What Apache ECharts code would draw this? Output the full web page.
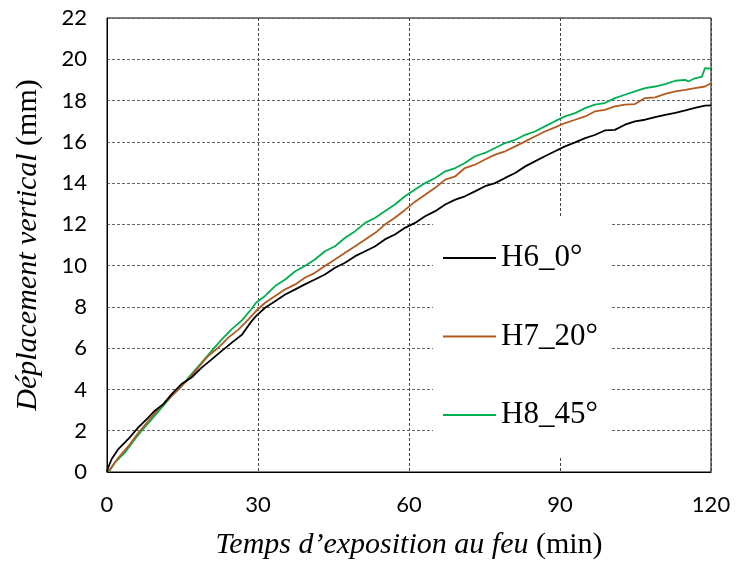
<!DOCTYPE html>
<html>
<head>
<meta charset="utf-8">
<script src="https://cdn.jsdelivr.net/npm/echarts@6/dist/echarts.min.js"></script>
<style>html,body{margin:0;padding:0;background:#fff}#c{width:736px;height:565px}</style>
</head>
<body>
<div id="c"></div>
<script>
// Time (min) and vertical displacement (mm)
const seriesNames = ['H6_0°', 'H7_20°', 'H8_45°'];
const xTicks = [0, 30, 60, 90, 120];
const yTicks = [0, 2, 4, 6, 8, 10, 12, 14, 16, 18, 20, 22];

const h6 = [
  [0,0],[0.13,0.15],[0.93,0.63],[2.25,1.11],[4.24,1.6],[6.23,2.16],[8.2,2.64],[9.5,2.97],[11.2,3.29],[12.85,3.77],
  [14.8,4.26],[16.8,4.58],[18.8,5.06],[20.8,5.46],[22.8,5.87],[24.8,6.27],[26.8,6.65],[28.7,7.3],[29.6,7.55],
  [31.4,7.96],[33.4,8.28],[35.4,8.6],[37.4,8.85],[39.3,9.09],[41.3,9.33],[43.3,9.57],[45.3,9.9],[47.3,10.14],
  [49.3,10.46],[51.3,10.7],[53.3,10.94],[55.2,11.27],[57.2,11.51],[59.2,11.83],[61.2,12.07],[63.2,12.39],
  [65.2,12.64],[67.2,12.96],[69.2,13.2],[71.1,13.36],[73.1,13.6],[75.1,13.85],[77.1,14.0],[79.1,14.25],
  [81.1,14.49],[83.1,14.81],[85.0,15.05],[87.0,15.3],[89.0,15.54],[91.0,15.78],[93.0,15.97],[95.0,16.18],
  [96.9,16.33],[98.9,16.55],[100.9,16.58],[102.9,16.83],[104.9,16.99],[106.9,17.07],[108.9,17.2],[110.9,17.31],
  [112.9,17.4],[114.9,17.52],[116.8,17.64],[118.8,17.75],[120,17.77]
];
const h7 = [
  [0,0],[0.6,0.13],[2.25,0.69],[4.24,1.25],[6.23,1.9],[8.2,2.47],[10.2,3.05],[12.2,3.53],[14.2,4.01],[16.2,4.5],
  [18.1,5.06],[20.1,5.62],[22.1,6.02],[24.1,6.51],[26.1,6.9],[28.1,7.4],[29.6,7.8],[31.4,8.2],[33.4,8.53],
  [35.4,8.85],[37.4,9.09],[39.3,9.41],[41.3,9.65],[43.3,9.98],[45.3,10.3],[47.3,10.62],[49.3,10.94],[51.3,11.27],
  [53.3,11.59],[55.2,11.99],[57.2,12.32],[59.2,12.7],[61.2,13.1],[63.2,13.44],[65.2,13.77],[67.2,14.17],
  [69.2,14.33],[71.1,14.73],[73.1,14.89],[75.1,15.14],[77.1,15.38],[79.1,15.54],[81.1,15.78],[83.1,16.02],
  [85.0,16.26],[87.0,16.5],[89.0,16.7],[91.0,16.91],[93.0,17.07],[95.0,17.23],[96.9,17.47],[98.9,17.55],
  [100.9,17.72],[102.9,17.8],[104.9,17.83],[106.9,18.12],[108.9,18.15],[110.9,18.32],[112.9,18.44],[114.9,18.52],
  [116.8,18.6],[118.8,18.68],[120,18.84]
];
const h8 = [
  [0.35,0],[1.6,0.47],[3.58,0.95],[5.56,1.6],[6.9,2.0],[8.9,2.56],[10.9,3.13],[12.85,3.69],[14.8,4.17],[16.8,4.74],
  [18.8,5.3],[20.8,5.87],[22.8,6.43],[24.8,6.92],[26.8,7.35],[28.7,7.9],[29.6,8.2],[31.4,8.53],[33.4,9.01],
  [35.4,9.33],[37.4,9.73],[39.3,9.98],[41.3,10.3],[43.3,10.7],[45.3,10.94],[47.3,11.35],[49.3,11.67],[51.3,12.07],
  [53.3,12.32],[55.2,12.64],[57.2,12.96],[59.2,13.36],[61.2,13.69],[63.2,14.0],[65.2,14.25],[67.2,14.57],
  [69.2,14.73],[71.1,14.97],[73.1,15.3],[75.1,15.46],[77.1,15.7],[79.1,15.94],[81.1,16.1],[83.1,16.34],
  [85.0,16.5],[87.0,16.75],[89.0,17.0],[91.0,17.23],[93.0,17.39],[95.0,17.63],[96.9,17.8],[98.9,17.88],
  [100.9,18.12],[102.9,18.28],[104.9,18.44],[106.9,18.6],[108.9,18.68],[110.9,18.8],[112.9,18.96],[114.9,19.0],
  [115.5,18.92],[116.8,19.08],[118.2,19.16],[118.8,19.57],[120,19.54]
];
const seriesData = [h6, h7, h8];
const colors = ['#000000', '#B35A1F', '#00B050'];

const chart = echarts.init(document.getElementById('c'), null, {renderer: 'canvas'});
const tickFont = 'Lato, "Open Sans", sans-serif';
const serif = '"Liberation Serif", "Times New Roman", serif';

chart.setOption({
  animation: false,
  backgroundColor: '#fff',
  grid: {left: 107, right: 25, top: 18, bottom: 92, show: true, borderColor: '#000', borderWidth: 1, backgroundColor: 'transparent'},
  xAxis: {
    type: 'value', min: xTicks[0], max: xTicks[xTicks.length - 1], interval: 30,
    axisLine: {show: true, lineStyle: {color: '#000', width: 1}},
    axisTick: {show: false},
    splitLine: {show: true, lineStyle: {color: '#444', type: [3, 2], width: 1}},
    axisLabel: {color: '#000', fontFamily: tickFont, fontSize: 22, margin: 22},
    name: '{i|Temps d\u2019exposition au feu }{r|(min)}',
    nameLocation: 'middle', nameGap: 58,
    nameTextStyle: {rich: {
      i: {fontFamily: serif, fontStyle: 'italic', fontSize: 30, color: '#000'},
      r: {fontFamily: serif, fontSize: 30, color: '#000'}
    }}
  },
  yAxis: {
    type: 'value', min: yTicks[0], max: yTicks[yTicks.length - 1], interval: 2,
    axisLine: {show: true, lineStyle: {color: '#000', width: 1}},
    axisTick: {show: false},
    splitLine: {show: true, lineStyle: {color: '#666', type: [3, 2], width: 1}},
    axisLabel: {color: '#000', fontFamily: tickFont, fontSize: 22, margin: 20},
    name: '{i|D\u00e9placement vertical }{r|(mm)}',
    nameLocation: 'middle', nameGap: 64,
    nameTextStyle: {rich: {
      i: {fontFamily: serif, fontStyle: 'italic', fontSize: 30, color: '#000'},
      r: {fontFamily: serif, fontSize: 30, color: '#000'}
    }}
  },
  legend: {
    orient: 'vertical', left: 433, top: 217,
    backgroundColor: '#fff',
    padding: [23, 12, 24, 10],
    icon: 'rect',
    itemWidth: 53, itemHeight: 2, itemGap: 42.5,
    textStyle: {fontFamily: serif, fontSize: 31, color: '#000', lineHeight: 36},
    data: seriesNames
  },
  series: seriesNames.map((n, i) => ({
    name: n, type: 'line', data: seriesData[i], showSymbol: false, symbol: 'none',
    lineStyle: {color: colors[i], width: 1.8}, itemStyle: {color: colors[i]},
    z: 2 + (2 - i)
  }))
});
</script>
</body>
</html>
